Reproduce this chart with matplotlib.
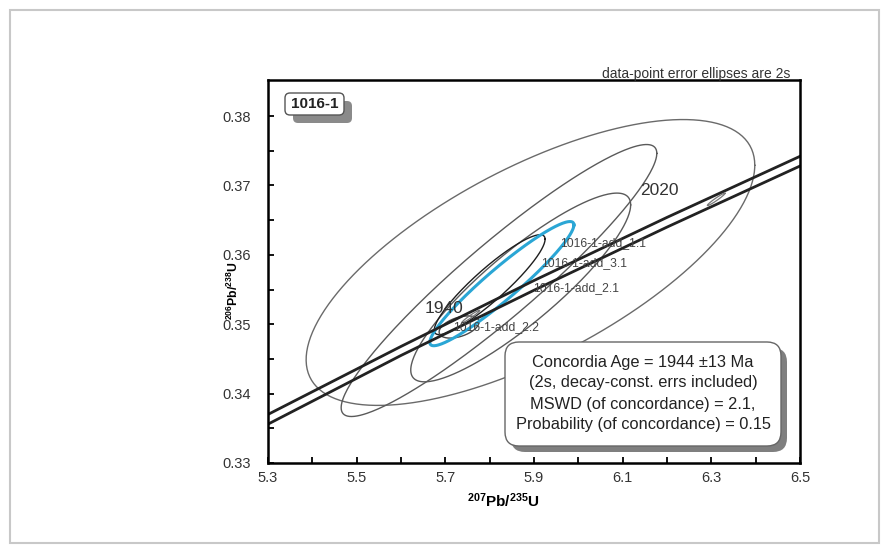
import numpy as np
import matplotlib
matplotlib.use('Agg')
from matplotlib import pyplot as plt
from matplotlib.patches import FancyBboxPatch, Rectangle
from matplotlib.ticker import FixedLocator
from matplotlib.transforms import IdentityTransform

plt.rcParams['font.family'] = ['Liberation Sans', 'DejaVu Sans']
plt.rcParams['mathtext.fontset'] = 'custom'
plt.rcParams['mathtext.rm'] = 'Liberation Sans'
plt.rcParams['mathtext.bf'] = 'Liberation Sans:bold'

# data-point error ellipses (2s): centre, half widths, error correlation
ell_x = [5.892, 5.821, 5.870, 5.800, 5.731]
ell_y = [0.3589, 0.3563, 0.3553, 0.3557, 0.3496]
ell_ex = [0.506, 0.356, 0.248, 0.125, 0.045]
ell_ey = [0.0206, 0.0196, 0.0136, 0.0072, 0.0016]
ell_rho = [0.68, 0.935, 0.875, 0.91, 0.45]
ell_col = ['#6a6a6a', '#5a5a5a', '#5a5a5a', '#1e1e1e', '#4a4a4a']

# concordia age ellipse
conc_ell = [5.8275, 0.35585, 0.1625, 0.00895, 0.945]

# spot labels
lab_names = ['1016-1-add_1.1', '1016-1-add_3.1', '1016-1-add_2.1', '1016-1-add_2.2']
lab_x = [5.959, 5.917, 5.898, 5.718]
lab_y = [0.3617, 0.3588, 0.3552, 0.3496]

# concordia band (decay constant errors)
band_x = [5.3, 5.6, 5.9, 6.2, 6.5]
band_hi = [0.3370, 0.3468, 0.3563, 0.3654, 0.3742]
band_lo = [0.3356, 0.3455, 0.3549, 0.3640, 0.3728]

# age markers
age_lab = ['1940', '2020']
age_x = [5.757, 6.311]
age_y = [0.3511, 0.3680]
age_tx = [5.654, 6.139]
age_ty = [0.3523, 0.3693]

x_major = [5.3, 5.5, 5.7, 5.9, 6.1, 6.3, 6.5]
x_minor = [5.4, 5.6, 5.8, 6.0, 6.2, 6.4]
y_major = [0.33, 0.34, 0.35, 0.36, 0.37, 0.38]
y_minor = [0.335, 0.345, 0.355, 0.365, 0.375]

result_lines = ['Concordia Age = 1944 \u00b113 Ma',
                '(2s, decay-const. errs included)',
                'MSWD (of concordance) = 2.1,',
                'Probability (of concordance) = 0.15']


def ellipse(cx, cy, ex, ey, rho):
    t = np.linspace(0, 2 * np.pi, 300)
    return cx + ex * np.cos(t), cy + ey * (rho * np.cos(t) + np.sqrt(1 - rho ** 2) * np.sin(t))


W, H = 881, 547
fig = plt.figure(figsize=(W / 100, H / 100), dpi=100)
ax = fig.add_axes([268 / W, 1 - 463 / H, 532 / W, 383 / H])

for i in range(len(ell_x)):
    ex, ey = ellipse(ell_x[i], ell_y[i], ell_ex[i], ell_ey[i], ell_rho[i])
    ax.plot(ex, ey, color=ell_col[i], lw=1.0)

cx, cy = ellipse(*conc_ell)
ax.plot(cx, cy, color='#2aa6d5', lw=2.2)

ax.plot(band_x, band_hi, color='#222222', lw=2.0)
ax.plot(band_x, band_lo, color='#222222', lw=2.0)

for i in range(len(age_lab)):
    mx, my = ellipse(age_x[i], age_y[i], 0.02, 0.0009, 0.97)
    ax.plot(mx, my, color='#777777', lw=0.9)
    ax.text(age_tx[i], age_ty[i], age_lab[i], fontsize=12.5, color='#333333', va='center')

for i in range(len(lab_names)):
    ax.text(lab_x[i], lab_y[i], lab_names[i], fontsize=8.7, color='#444444', va='center')

ax.set_xlim(5.3, 6.5)
ax.set_ylim(0.33, 0.3852)
ax.xaxis.set_major_locator(FixedLocator(x_major))
ax.xaxis.set_minor_locator(FixedLocator(x_minor))
ax.yaxis.set_major_locator(FixedLocator(y_major))
ax.yaxis.set_minor_locator(FixedLocator(y_minor))
ax.set_xticklabels(['%.1f' % v for v in x_major])
ax.set_yticklabels(['%.2f' % v for v in y_major])
ax.tick_params(which='both', direction='in', length=4, width=1.3, labelsize=10.5,
               labelcolor='#333333')
ax.tick_params(axis='y', pad=12)
ax.tick_params(axis='x', pad=6)
for s in ax.spines.values():
    s.set_linewidth(1.8)

ax.set_xlabel(r'$\mathbf{^{207}Pb/^{235}U}$', fontsize=11)
ax.set_ylabel(r'$\mathbf{^{206}Pb/^{238}U}$', fontsize=8.8)
ax.xaxis.set_label_coords(0.442, -0.075)
ax.yaxis.set_label_coords(-0.05, 0.449)

fig.text(790 / W, 1 - 74 / H, 'data-point error ellipses are 2s', fontsize=10,
         ha='right', va='center', color='#333333')

# whole-picture frame
fig.patches.append(Rectangle((10, 4), 869, 533, transform=IdentityTransform(),
                             fill=False, ec='#c8c8c8', lw=1.5, zorder=0))

# sample name box
fig.patches.append(FancyBboxPatch((293, H - 123), 59, 22, boxstyle='round,pad=0,rounding_size=5',
                                  transform=IdentityTransform(), fc='#8a8a8a', ec='none', zorder=5))
fig.patches.append(FancyBboxPatch((285, H - 115), 59, 22, boxstyle='round,pad=0,rounding_size=5',
                                  transform=IdentityTransform(), fc='white', ec='#555555', lw=1.0, zorder=6))
fig.text(314.5 / W, 1 - 104 / H, '1016-1', fontsize=11, fontweight='bold', ha='center', va='center',
         color='#222222', zorder=7)

# result box
fig.patches.append(FancyBboxPatch((511, H - 452), 276, 104, boxstyle='round,pad=0,rounding_size=14',
                                  transform=IdentityTransform(), fc='#7f7f7f', ec='none', zorder=5))
fig.patches.append(FancyBboxPatch((505, H - 446), 276, 104, boxstyle='round,pad=0,rounding_size=14',
                                  transform=IdentityTransform(), fc='white', ec='#666666', lw=1.0, zorder=6))
for i, line in enumerate(result_lines):
    fig.text(643 / W, 1 - (362 + i * 21) / H, line, fontsize=11.8, ha='center', va='center',
             color='#222222', zorder=7)

fig.savefig('out.png', dpi=100)
